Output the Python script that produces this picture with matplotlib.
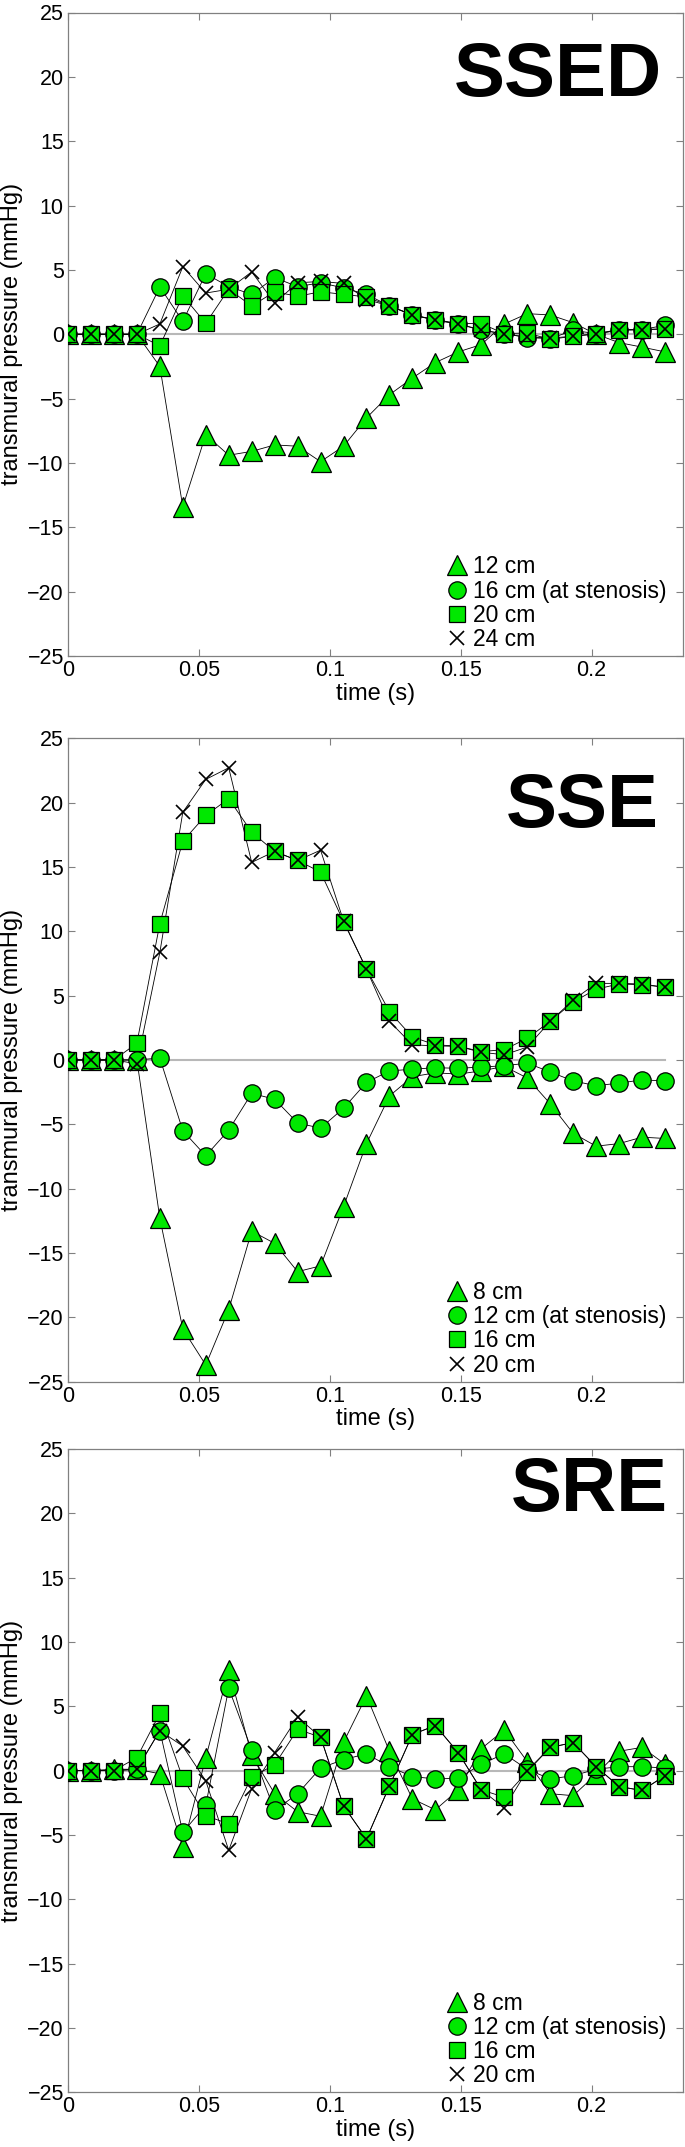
import numpy as np
import matplotlib
matplotlib.use("Agg")
import matplotlib.pyplot as plt

plt.rcParams['font.family'] = ['Liberation Sans', 'DejaVu Sans']

# sample times (s)
dt = 0.00877
time = np.arange(27) * dt

titles = ["SSED", "SSE", "SRE"]
labels_ssed = ["12 cm", "16 cm (at stenosis)", "20 cm", "24 cm"]
labels_sse = ["8 cm", "12 cm (at stenosis)", "16 cm", "20 cm"]
labels_sre = ["8 cm", "12 cm (at stenosis)", "16 cm", "20 cm"]

# SSED
ssed_tri = [0, 0, 0, 0, -2.5, -13.4, -7.8, -9.4, -9.1, -8.6, -8.7, -9.9, -8.7, -6.5, -4.7, -3.4,
            -2.2, -1.37, -0.8, 0.8, 1.6, 1.5, 0.9, 0.0, -0.65, -1.0, -1.37]
ssed_circ = [0, 0, 0, 0, 3.68, 1.0, 4.7, 3.7, 3.1, 4.4, 3.7, 4.0, 3.6, 3.1, 2.2, 1.5,
             1.1, 0.8, 0.3, 0.05, -0.26, -0.34, 0.3, 0.05, 0.36, 0.36, 0.7]
ssed_sq = [0, 0, 0, 0, -0.9, 3.0, 0.85, 3.5, 2.2, 3.3, 2.95, 3.3, 3.1, 2.9, 2.2, 1.5,
           1.14, 0.83, 0.83, 0.05, 0.1, -0.4, -0.15, 0.0, 0.36, 0.36, 0.44]
ssed_x = [0, 0, 0, 0, 0.8, 5.25, 3.2, 3.5, 4.85, 2.43, 4.0, 4.1, 3.95, 2.7, 2.2, 1.5,
          1.1, 0.8, 0.35, 0.0, -0.2, -0.3, -0.15, 0.05, 0.3, 0.35, 0.4]

# SSE
sse_tri = [0, 0, 0, 0, -12.3, -20.9, -23.7, -19.4, -13.3, -14.25, -16.45, -16.0, -11.4, -6.5,
           -2.8, -1.3, -1.0, -1.1, -0.85, -0.5, -1.4, -3.4, -5.7, -6.7, -6.5, -6.0, -6.1]
sse_circ = [0, 0, 0, 0, 0.15, -5.5, -7.45, -5.45, -2.6, -3.05, -4.9, -5.3, -3.75, -1.75,
            -0.85, -0.72, -0.6, -0.65, -0.55, -0.45, -0.25, -0.93, -1.63, -2.0, -1.8, -1.55, -1.63]
sse_sq = [0, 0, 0, 1.3, 10.6, 17.0, 19.0, 20.3, 17.7, 16.2, 15.5, 14.6, 10.75, 7.05,
          3.75, 1.78, 1.18, 1.07, 0.65, 0.8, 1.68, 3.0, 4.5, 5.5, 5.9, 5.85, 5.65]
sse_x = [0, 0, 0, -0.3, 8.35, 19.25, 21.8, 22.7, 15.35, 16.2, 15.5, 16.3, 10.8, 7.05,
         3.0, 1.17, 1.1, 1.05, 0.6, 0.4, 1.0, 3.0, 4.65, 5.95, 5.95, 5.9, 5.65]

# SRE
sre_tri = [0, 0, 0.1, 0.1, -0.25, -5.95, 1.0, 7.8, 1.2, -1.8, -3.2, -3.55, 2.2, 5.8,
           1.5, -2.2, -3.05, -1.5, 1.7, 3.15, 0.7, -1.8, -1.95, -0.3, 1.5, 1.8, 0.5]
sre_circ = [0, 0, 0, 0.1, 3.1, -4.8, -2.7, 6.4, 1.6, -3.1, -1.8, 0.2, 0.85, 1.3,
            0.3, -0.47, -0.65, -0.6, 0.5, 1.3, 0.1, -0.65, -0.4, 0.1, 0.3, 0.3, 0.2]
sre_sq = [0, 0, 0, 1.0, 4.45, -0.6, -3.5, -4.15, -0.5, 0.45, 3.2, 2.6, -2.75, -5.3,
          -1.2, 2.8, 3.5, 1.38, -1.5, -2.07, -0.1, 1.8, 2.17, 0.3, -1.24, -1.55, -0.4]
sre_x = [0, 0, 0, 0.1, 3.1, 1.9, -0.8, -6.2, -1.4, 1.4, 4.15, 2.6, -2.75, -5.3,
         -1.2, 2.8, 3.5, 1.38, -1.5, -2.9, 0.0, 1.8, 2.17, 0.3, -1.24, -1.55, -0.4]

panels = [
    (titles[0], [ssed_tri, ssed_circ, ssed_sq, ssed_x], labels_ssed, (0.966, 0.8705)),
    (titles[1], [sse_tri, sse_circ, sse_sq, sse_x], labels_sse, (0.961, 0.862)),
    (titles[2], [sre_tri, sre_circ, sre_sq, sre_x], labels_sre, (0.976, 0.904)),
]

xticks = [0, 0.05, 0.1, 0.15, 0.2]
xticklabels = ["0", "0.05", "0.1", "0.15", "0.2"]
yticks = list(range(-25, 30, 5))

GREEN = '#00e800'
fig = plt.figure(figsize=(6.85, 21.47), dpi=100)
left, width, height = 68 / 685, 615 / 685, 643.5 / 2147
bottoms = [1 - 656 / 2147, 1 - 1381.7 / 2147, 1 - 2092.3 / 2147]

styles = [
    dict(marker='^', markersize=15, markerfacecolor=GREEN, markeredgecolor='black', markeredgewidth=0.9),
    dict(marker='o', markersize=12.5, markerfacecolor=GREEN, markeredgecolor='black', markeredgewidth=0.9),
    dict(marker='s', markersize=11, markerfacecolor=GREEN, markeredgecolor='black', markeredgewidth=0.9),
    dict(marker='x', markersize=10, color='black', markeredgewidth=1.2),
]

for (title, series, labels, tpos), b in zip(panels, bottoms):
    ax = fig.add_axes([left, b, width, height])
    ax.plot([time[0], time[-1]], [0, 0], color='#b8b8b8', lw=1.5, zorder=1)
    for vals in series:
        ax.plot(time, vals, color='black', lw=0.6, zorder=2)
    for vals, st, lab in zip(series, styles, labels):
        ax.plot(time, vals, linestyle='none', zorder=3, label=lab, **st)
    ax.set_xlim(0, 0.2349)
    ax.set_ylim(-25, 25)
    ax.set_xticks(xticks)
    ax.set_xticklabels(xticklabels)
    ax.set_yticks(yticks)
    ax.tick_params(direction='in', length=5, width=0.8, color='#808080',
                   top=True, right=True, labelsize=15.5, pad=3)
    for sp in ax.spines.values():
        sp.set_color('#808080')
        sp.set_linewidth(0.9)
    ax.set_xlabel("time (s)", fontsize=17, labelpad=1)
    ax.set_ylabel("transmural pressure (mmHg)", fontsize=17, labelpad=3)
    ax.text(tpos[0], tpos[1], title, transform=ax.transAxes, ha='right', va='baseline',
            fontsize=55, fontweight='bold')
    ax.legend(loc='lower left', bbox_to_anchor=(0.6176, 0.008), frameon=False,
              fontsize=16.5, handlelength=0.8, handletextpad=0.3, borderpad=0,
              labelspacing=0.05, borderaxespad=0)

fig.savefig("out.png", dpi=100)
